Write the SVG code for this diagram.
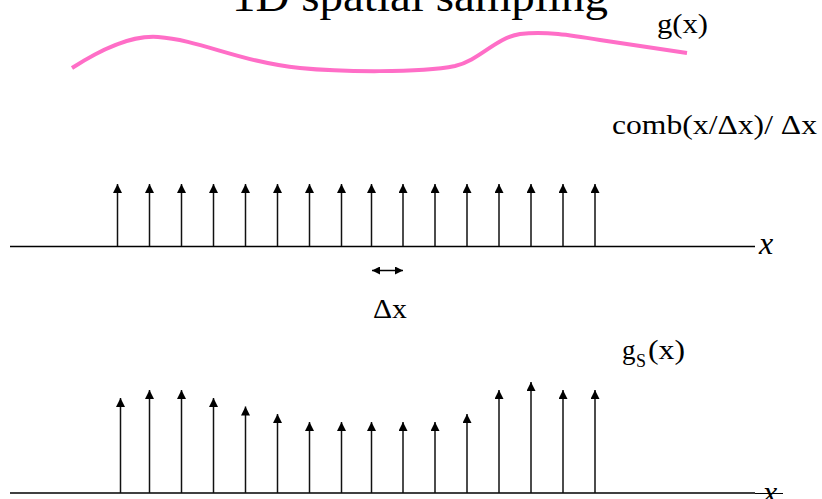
<svg xmlns="http://www.w3.org/2000/svg" width="822" height="499" viewBox="0 0 822 499">
<style>
text{font-family:"Liberation Serif","Times New Roman",serif;fill:#000}
.axis{stroke:#000;stroke-width:1.6;fill:none}
.stem{stroke:#111;stroke-width:1.5;fill:none;marker-end:url(#ah)}
.it{font-style:italic}
</style>
<defs>
<marker id="ah" viewBox="0 0 10 10" refX="10" refY="5" markerWidth="10" markerHeight="9" markerUnits="userSpaceOnUse" orient="auto">
<path d="M0,0 L10,5 L0,10 z" fill="#000"/>
</marker>
<marker id="dh" viewBox="0 0 10 10" refX="10" refY="5" markerWidth="9" markerHeight="8" markerUnits="userSpaceOnUse" orient="auto-start-reverse">
<path d="M0,0 L10,5 L0,10 z" fill="#000"/>
</marker>
</defs>
<g id="title"><text x="232" y="11" font-size="44" textLength="376" lengthAdjust="spacingAndGlyphs">1D spatial sampling</text></g>
<g id="signal">
<path d="M72,68 C100,50 130,35 158,37 C200,40 240,62 300,68 C340,72 420,73 455,66 C480,60 495,38 520,34 C545,31 570,35 600,40 L687,53" fill="none" stroke="#ff6ec7" stroke-width="4"/>
<text x="657" y="33" font-size="27" textLength="51" lengthAdjust="spacingAndGlyphs">g(x)</text>
</g>
<g id="comb">
<text x="612" y="134" font-size="27" textLength="205" lengthAdjust="spacingAndGlyphs">comb(x/Δx)/ Δx</text>
<line class="axis" x1="10" y1="246.5" x2="755" y2="246.5"/>
<text class="it" x="759" y="254" font-size="32">x</text>
<g id="comb-arrows">
<line class="stem" x1="117.5" y1="246" x2="117.5" y2="184"/>
<line class="stem" x1="149.5" y1="246" x2="149.5" y2="184"/>
<line class="stem" x1="181.5" y1="246" x2="181.5" y2="184"/>
<line class="stem" x1="213.5" y1="246" x2="213.5" y2="184"/>
<line class="stem" x1="245.5" y1="246" x2="245.5" y2="184"/>
<line class="stem" x1="277.5" y1="246" x2="277.5" y2="184"/>
<line class="stem" x1="309.5" y1="246" x2="309.5" y2="184"/>
<line class="stem" x1="341.5" y1="246" x2="341.5" y2="184"/>
<line class="stem" x1="371.5" y1="246" x2="371.5" y2="184"/>
<line class="stem" x1="403" y1="246" x2="403" y2="184"/>
<line class="stem" x1="435" y1="246" x2="435" y2="184"/>
<line class="stem" x1="467" y1="246" x2="467" y2="184"/>
<line class="stem" x1="499" y1="246" x2="499" y2="184"/>
<line class="stem" x1="531" y1="246" x2="531" y2="184"/>
<line class="stem" x1="563" y1="246" x2="563" y2="184"/>
<line class="stem" x1="595" y1="246" x2="595" y2="184"/>
</g>
</g>
<g id="spacing">
<line x1="372" y1="270.5" x2="403" y2="270.5" stroke="#000" stroke-width="1.5" marker-start="url(#dh)" marker-end="url(#dh)"/>
<text x="373" y="318" font-size="27" textLength="34" lengthAdjust="spacingAndGlyphs">Δx</text>
</g>
<g id="sampled">
<text x="622" y="359" font-size="27">g</text>
<text x="636" y="367" font-size="18">S</text>
<text x="648" y="359" font-size="27" textLength="37" lengthAdjust="spacingAndGlyphs">(x)</text>
<line class="axis" x1="10" y1="493" x2="755" y2="493" stroke-width="2"/>
<line x1="755" y1="493.5" x2="783" y2="493.5" stroke="#000" stroke-width="1"/>
<text class="it" x="763" y="503" font-size="32">x</text>
<g id="sampled-arrows">
<line class="stem" x1="120.5" y1="493" x2="120.5" y2="398"/>
<line class="stem" x1="149.5" y1="493" x2="149.5" y2="390"/>
<line class="stem" x1="181.5" y1="493" x2="181.5" y2="390"/>
<line class="stem" x1="213.5" y1="493" x2="213.5" y2="398"/>
<line class="stem" x1="245.5" y1="493" x2="245.5" y2="406.5"/>
<line class="stem" x1="277.5" y1="493" x2="277.5" y2="414"/>
<line class="stem" x1="309.5" y1="493" x2="309.5" y2="422"/>
<line class="stem" x1="341.5" y1="493" x2="341.5" y2="422"/>
<line class="stem" x1="371.5" y1="493" x2="371.5" y2="422"/>
<line class="stem" x1="403" y1="493" x2="403" y2="422"/>
<line class="stem" x1="435" y1="493" x2="435" y2="422"/>
<line class="stem" x1="467" y1="493" x2="467" y2="414"/>
<line class="stem" x1="499" y1="493" x2="499" y2="390"/>
<line class="stem" x1="531" y1="493" x2="531" y2="382"/>
<line class="stem" x1="563" y1="493" x2="563" y2="390"/>
<line class="stem" x1="595" y1="493" x2="595" y2="390"/>
</g>
</g>
</svg>
